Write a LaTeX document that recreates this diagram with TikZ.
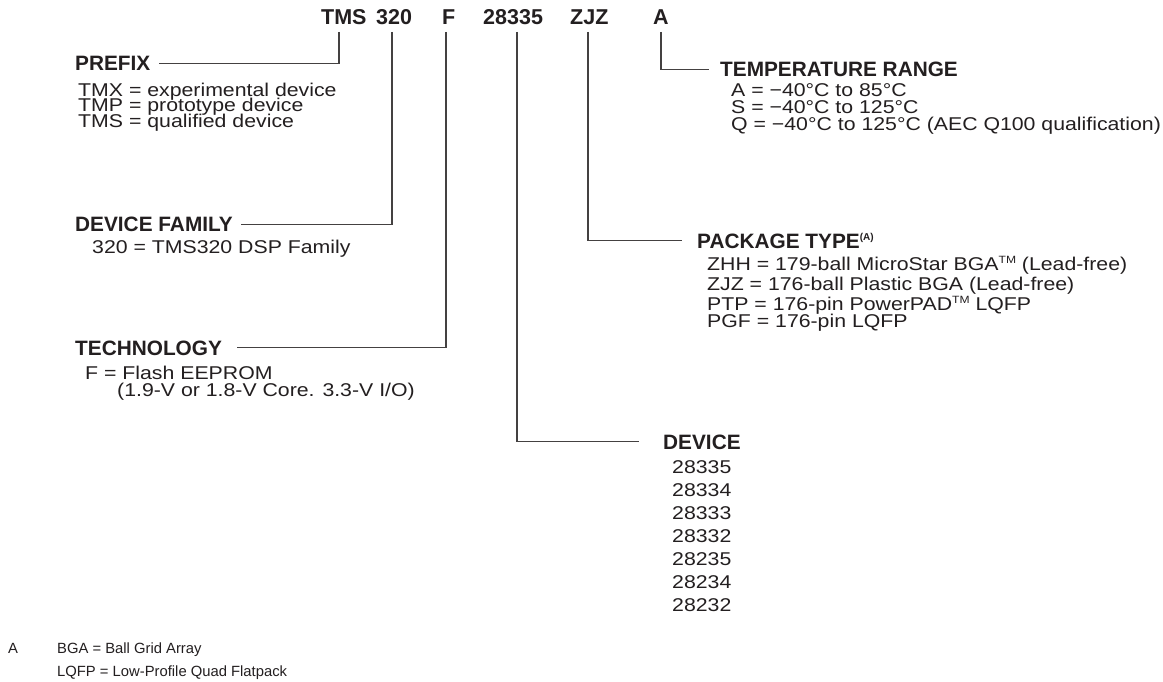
\documentclass[tikz,border=0pt]{standalone}
\usepackage{fontspec}
\setmainfont{Liberation Sans}
\newfontfamily\bodyfont[FakeStretch=1.15]{Liberation Sans}
\definecolor{ink}{RGB}{35,31,32}
\newcommand{\tmark}{\raisebox{7pt}{\fontsize{10.5}{10.5}\selectfont TM}}
\begin{document}
\begin{tikzpicture}[x=1pt,y=-1pt,
  hdr/.style={anchor=base west,inner sep=0pt,font=\fontsize{21.5}{21}\selectfont\bfseries,text=ink},
  head/.style={anchor=base west,inner sep=0pt,font=\fontsize{20.8}{17}\selectfont\bfseries,text=ink},
  txt/.style={anchor=base west,inner sep=0pt,font=\bodyfont\fontsize{18.5}{17}\selectfont,text=ink},
  note/.style={anchor=base west,inner sep=0pt,font=\fontsize{14.8}{17}\selectfont,text=ink},
  ln/.style={draw=ink!85,line width=1.2pt}]
\useasboundingbox[fill=white] (0,0) rectangle (1163,682);
% header
\node[hdr] (tms) at (321,25) {TMS};
\node[hdr] (n320) at (376,25) {320};
\node[hdr] (fch) at (442,25) {F};
\node[hdr] (dnum) at (483,25) {28335};
\node[hdr] (pkgc) at (570,25) {ZJZ};
\node[hdr] (tmpc) at (653,25) {A};
% left column
\node[head] (prefix) at (75,71) {PREFIX};
\node[txt] (p1) at (78,96.5) {TMX = experimental device};
\node[txt] (p2) at (78,112) {TMP = prototype device};
\node[txt] (p3) at (78,127.5) {TMS = qualified device};
\node[head] (fam) at (75,232) {DEVICE FAMILY};
\node[txt] (fam1) at (92,254) {320 = TMS320 DSP Family};
\node[head] (tech) at (75,355) {TECHNOLOGY};
\node[txt] (tech1) at (85,379) {F = Flash EEPROM};
\node[txt] (tech2) at (117,396) {(1.9-V or 1.8-V Core. 3.3-V I/O)};
% right column
\node[head] (tr) at (720,77) {TEMPERATURE RANGE};
\node[txt] (tr1) at (731,97) {A = −40°C to 85°C};
\node[txt] (tr2) at (731,114) {S = −40°C to 125°C};
\node[txt] (tr3) at (731,131) {Q = −40°C to 125°C (AEC Q100 qualification)};
\node[head] (pt) at (697,248) {PACKAGE TYPE\raisebox{8pt}{\fontsize{10}{10}\selectfont(A)}};
\node[txt] (pt1) at (707,270) {ZHH = 179-ball MicroStar BGA\tmark{} (Lead-free)};
\node[txt] (pt2) at (707,290) {ZJZ = 176-ball Plastic BGA (Lead-free)};
\node[txt] (pt3) at (707,310) {PTP = 176-pin PowerPAD\tmark{} LQFP};
\node[txt] (pt4) at (707,327) {PGF = 176-pin LQFP};
\node[head] (dv) at (663,449) {DEVICE};
\foreach \n [count=\i from 0] in {28335,28334,28333,28332,28235,28234,28232}
  \node[txt] (dv\i) at (672,473+23*\i) {\n};
% footnote
\node[note] (fa) at (8,653) {A};
\node[note] (f1) at (57,653) {BGA = Ball Grid Array};
\node[note] (f2) at (57,676) {LQFP = Low-Profile Quad Flatpack};
% connectors
\coordinate (c1) at (339,32);
\coordinate (c2) at (392,32);
\coordinate (c3) at (446,32);
\coordinate (c4) at (517,32);
\coordinate (c5) at (588,32);
\coordinate (c6) at (661,32);
\draw[ln] (c1) |- ([shift={(8pt,7.5pt)}]prefix.base east);
\draw[ln] (c2) |- ([shift={(8pt,7.5pt)}]fam.base east);
\draw[ln] (c3) |- ([shift={(15pt,7.5pt)}]tech.base east);
\draw[ln] (c4) |- ([shift={(-24pt,7.5pt)}]dv.base west);
\draw[ln] (c5) |- ([shift={(-15pt,7.5pt)}]pt.base west);
\draw[ln] (c6) |- ([shift={(-11pt,7.5pt)}]tr.base west);
\end{tikzpicture}
\end{document}
